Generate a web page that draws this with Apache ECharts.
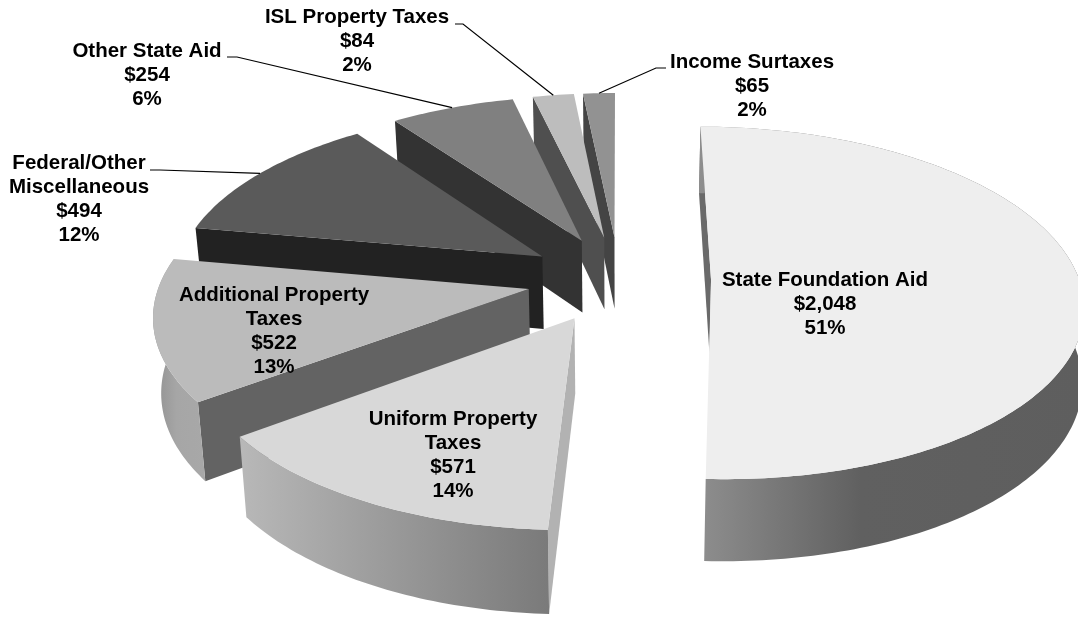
<!DOCTYPE html>
<html>
<head>
<meta charset="utf-8">
<style>html,body{margin:0;padding:0;background:#fff;overflow:hidden}#c{width:1078px;height:617px}</style>
<script src="https://cdn.jsdelivr.net/npm/echarts@6/dist/echarts.min.js"></script>
</head>
<body>
<div id="c"></div>
<script>
// ---- data ----
var categories = ['State Foundation Aid', 'Uniform Property\nTaxes', 'Additional Property\nTaxes', 'Federal/Other\nMiscellaneous', 'Other State Aid', 'ISL Property Taxes', 'Income Surtaxes'];
var amounts = [2048, 571, 522, 494, 254, 84, 65];

// ---- style & layout ----
var topColors = ['#eeeeee', '#d8d8d8', '#bbbbbb', '#5a5a5a', '#808080', '#bdbdbd', '#929292'];
var radialColors = ['#6a6a6a', '#b2b2b2', '#636363', '#222222', '#333333', '#4f4f4f', '#444444'];
var outerStops = [
  [[0, '#8e8e8e'], [0.42, '#606060'], [1, '#5e5e5e']],
  [[0, '#b8b8b8'], [1, '#7a7a7a']],
  [[0, '#909090'], [0.45, '#a6a6a6'], [1, '#a8a8a8']],
  null, null, null, null
];
var labelCenterX = [825, 453, 274, 79, 147, 357, 752];
var labelFirstY = [280, 419, 295, 163, 51, 17, 62];
var leaderElbows = [null, null, null, [[150, 170], [160, 170]], [[227, 57], [237, 57]], [[455, 24], [463, 24]], [[666, 68], [656, 68]]];
var FONT = '"Liberation Sans", Arial, sans-serif';
var FONT_SIZE = 20.5;
var LINE = 24;

// projection of the tilted disc
var CX = 619, CY = 279, AX = 368, AY = 173, P = 0.13, EXPLODE = 0.25;
var DEPTH = 73.5, DEPTH_Q = 0.104, NADIR = 0.0175, NADIR_MAX_RIGHT = 2;

var total = amounts.reduce(function (a, b) { return a + b; }, 0);
var rad = Math.PI / 180;
var slices = [];
(function () {
  var acc = 0;
  amounts.forEach(function (v) {
    var a0 = acc / total * 360; acc += v;
    var a1 = acc / total * 360;
    slices.push({ a0: a0, a1: a1, mid: (a0 + a1) / 2 });
  });
})();
var drawOrder = slices.map(function (s, i) { return i; }).sort(function (a, b) {
  return -Math.cos(slices[a].mid * rad) + Math.cos(slices[b].mid * rad);
});

function world(s, deg, r) {
  return [EXPLODE * Math.sin(s.mid * rad) + r * Math.sin(deg * rad),
          -EXPLODE * Math.cos(s.mid * rad) - r * Math.cos(deg * rad)];
}
function topPt(s, deg, r) {
  var q = world(s, deg, r), w = 1 - P * q[1];
  return [CX + AX * q[0] / w, CY + AY * q[1] / w];
}
function botPt(s, deg, r) {
  var q = world(s, deg, r), t = topPt(s, deg, r);
  var shift = Math.min((t[0] - CX) * NADIR, NADIR_MAX_RIGHT);
  return [t[0] - shift, t[1] + DEPTH / (1 - DEPTH_Q * q[1])];
}
function arc(fn, s, from, to) {
  var n = Math.max(2, Math.ceil(Math.abs(to - from))), pts = [];
  for (var i = 0; i <= n; i++) pts.push(fn(s, from + (to - from) * i / n, 1));
  return pts;
}
function money(v) { return '$' + String(v).replace(/\B(?=(\d{3})+$)/g, ','); }

function renderItem(params, api) {
  var i = params.dataIndex, s = slices[i], rank = drawOrder.indexOf(i) + 1, kids = [];
  function poly(points, fill, z) {
    kids.push({ type: 'polygon', z2: rank * 10 + z, shape: { points: points },
      style: { fill: fill, stroke: null } });
  }
  // radial face that looks toward the viewer
  poly([topPt(s, s.a0, 1), topPt(s, 0, 0), botPt(s, 0, 0), botPt(s, s.a0, 1)], radialColors[i], 1);
  // outer wall
  if (outerStops[i]) {
    var upper = arc(topPt, s, s.a0, s.a1), lower = arc(botPt, s, s.a0, s.a1).reverse();
    poly(upper.concat(lower), {
      type: 'linear', x: 0, y: 0, x2: 1, y2: 0,
      colorStops: outerStops[i].map(function (c) { return { offset: c[0], color: c[1] }; })
    }, 2);
  }
  // top surface
  poly([topPt(s, 0, 0)].concat(arc(topPt, s, s.a0, s.a1)), topColors[i], 3);
  // leader line
  if (leaderElbows[i]) {
    kids.push({ type: 'polyline', z2: 900,
      shape: { points: leaderElbows[i].concat([topPt(s, s.mid, 1)]) },
      style: { stroke: '#000', lineWidth: 1.2, fill: null } });
  }
  // label
  var lines = categories[i].split('\n').concat([money(amounts[i]), Math.round(amounts[i] / total * 100) + '%']);
  lines.forEach(function (t, k) {
    kids.push({ type: 'text', z2: 1000, style: {
      text: t, x: labelCenterX[i], y: labelFirstY[i] + k * LINE,
      align: 'center', verticalAlign: 'middle', fill: '#000',
      fontFamily: FONT, fontWeight: 'bold', fontSize: FONT_SIZE } });
  });
  return { type: 'group', children: kids };
}

var chart = echarts.init(document.getElementById('c'), null, { renderer: 'canvas' });
chart.setOption({
  animation: false,
  backgroundColor: '#fff',
  series: [{
    type: 'custom', coordinateSystem: 'none', clip: false, silent: true,
    renderItem: renderItem,
    data: amounts.map(function (v, i) { return { name: categories[i], value: v }; })
  }]
});
</script>
</body>
</html>
